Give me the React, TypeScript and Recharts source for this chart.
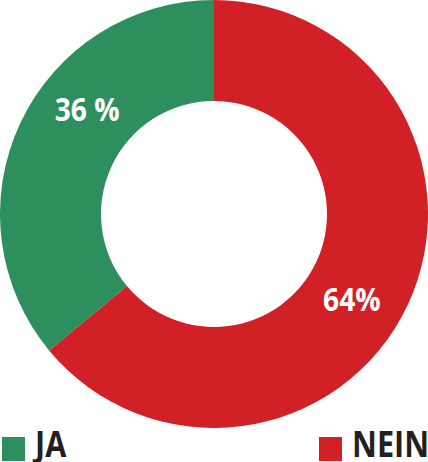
import { Cell, Legend, Pie, PieChart } from 'recharts';

const categories = ['NEIN', 'JA'];
const shares = [64, 36];
const labelTexts = ['64%', '36 %'];
const colors = ['#D22027', '#2E8F5E'];
const legendOrder = ['JA', 'NEIN'];

const data = categories.map((name, i) => ({ name, value: shares[i], text: labelTexts[i] }));

const FONT = '"Open Sans", sans-serif';
const RAD = Math.PI / 180;

// labels in the original sit a bit away from the slice middle
const angleShift: Record<string, number> = { NEIN: -6, JA: -15 };

function renderLabel(props: any) {
  const { cx, cy, midAngle, innerRadius, outerRadius, payload } = props;
  const r = (innerRadius + outerRadius) / 2;
  const a = (midAngle + (angleShift[payload.name] ?? 0)) * RAD;
  const x = cx + r * Math.cos(a);
  const y = cy - r * Math.sin(a);
  return (
    <text
      x={0}
      y={0}
      transform={`translate(${x - 2},${y}) scale(0.88,1)`}
      fill="#fff"
      fontFamily={FONT}
      fontWeight={700}
      fontSize={32}
      textAnchor="middle"
      dominantBaseline="central"
    >
      {payload.text}
    </text>
  );
}

function LegendContent() {
  return (
    <div style={{ position: 'relative', width: 428, height: 34, fontFamily: FONT, fontWeight: 700 }}>
      {legendOrder.map((name) => {
        const idx = categories.indexOf(name);
        const left = name === 'JA' ? 2 : 319;
        return (
          <div key={name} style={{ position: 'absolute', left, top: 0, height: 34 }}>
            <span
              style={{
                position: 'absolute',
                left: 0,
                top: 11,
                width: 23,
                height: 24,
                background: colors[idx],
              }}
            />
            <span
              style={{
                position: 'absolute',
                left: 33,
                top: 2,
                fontSize: 36,
                lineHeight: '32px',
                color: '#231F20',
                transform: 'scaleX(0.85)',
                transformOrigin: 'left center',
                whiteSpace: 'nowrap',
              }}
            >
              {name}
            </span>
          </div>
        );
      })}
    </div>
  );
}

export default function App() {
  return (
    <div style={{ position: 'absolute', left: 0, top: 0, width: 428, height: 462, background: '#fff' }}>
      <PieChart width={428} height={462} margin={{ top: 0, right: 0, bottom: 0, left: 0 }}>
        <Pie
          data={data}
          dataKey="value"
          nameKey="name"
          cx={214}
          cy={214}
          innerRadius={113}
          outerRadius={214}
          startAngle={90}
          endAngle={-270}
          stroke="none"
          label={renderLabel}
          labelLine={false}
          isAnimationActive={false}
        >
          {data.map((d, i) => (
            <Cell key={d.name} fill={colors[i]} />
          ))}
        </Pie>
        <Legend
          content={<LegendContent />}
          wrapperStyle={{ position: 'absolute', left: 0, top: 426, width: 428, height: 36 }}
        />
      </PieChart>
    </div>
  );
}
